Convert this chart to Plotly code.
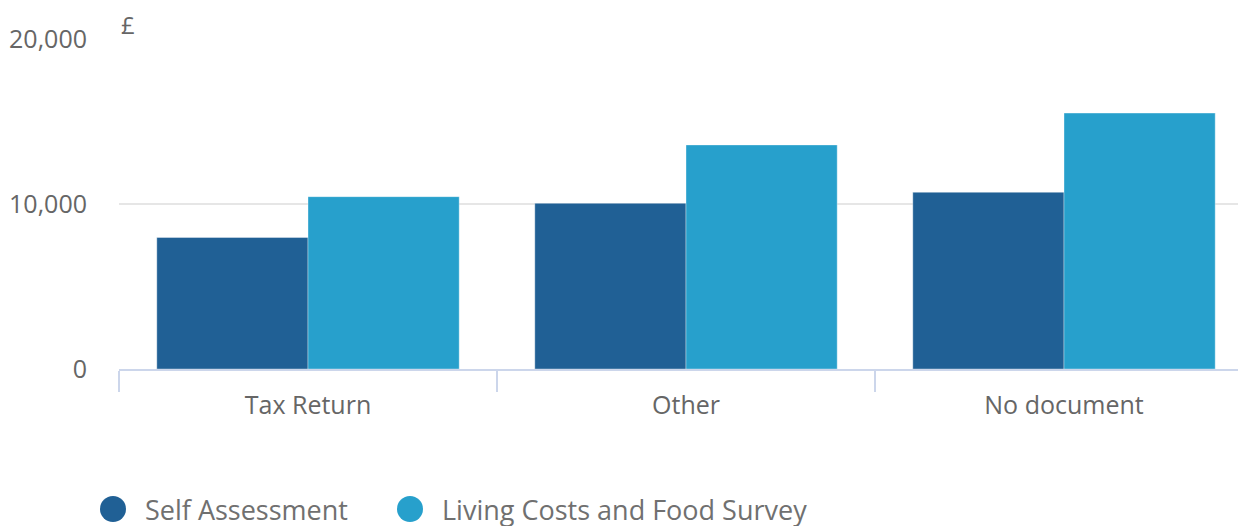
import plotly.graph_objects as go

categories = ["Tax Return", "Other", "No document"]
self_assessment = [7970, 10040, 10710]
lcf_survey = [10445, 13580, 15510]
series_names = ["Self Assessment", "Living Costs and Food Survey"]
colors = ["#206095", "#27a0cc"]
y_ticks = [0, 10000, 20000]
y_ticklabels = ["0", "10,000", "20,000"]

OFF = 8  # page body margin
W, H = 1246 - OFF, 526 - OFF
ML, MR, MT, MB = 119 - OFF, 0, 39 - OFF, 157
PW, PH = W - ML - MR, H - MT - MB

def px_x(px):
    return (px - OFF - ML) / PW

def px_y(py):
    return (H - MB - (py - OFF)) / PH

fig = go.Figure()
for name, vals, col in zip(series_names, [self_assessment, lcf_survey], colors):
    fig.add_trace(go.Bar(
        x=categories, y=vals, name=name,
        marker=dict(color=col, line=dict(color="rgba(255,255,255,0.6)", width=0.6)),
        showlegend=False,
    ))

font_family = "Open Sans, Noto Sans, sans-serif"
fig.update_layout(
    width=W, height=H,
    margin=dict(l=ML, r=MR, t=MT, b=MB),
    paper_bgcolor="white", plot_bgcolor="white",
    barmode="group", bargap=0.2, bargroupgap=0,
    font=dict(family=font_family, color="#666666", size=25),
    xaxis=dict(
        range=[-0.5, -0.5 + PW / 378.0],
        showgrid=False, showline=True, linecolor="#ccd6eb", linewidth=2,
        ticks="outside", tickson="boundaries", ticklen=21, tickcolor="#ccd6eb", tickwidth=2,
        ticklabelstandoff=13,
        tickfont=dict(size=25, color="#666666"), fixedrange=True,
    ),
    yaxis=dict(
        range=[0, 20000], tickvals=y_ticks, ticktext=y_ticklabels,
        showgrid=True, gridcolor="#e6e6e6", gridwidth=2, zeroline=False,
        showline=False, ticks="", ticklabelstandoff=31,
        tickfont=dict(size=25, color="#666666"), fixedrange=True,
    ),
)

fig.add_annotation(text="£", xref="paper", yref="paper", x=px_x(119), y=px_y(25),
                   xanchor="left", yanchor="middle", showarrow=False,
                   font=dict(size=24, color="#666666"))

legend_circle_px = [113, 410]
legend_text_px = [143, 440]
ly = px_y(509)
for name, col, cx, tx in zip(series_names, colors, legend_circle_px, legend_text_px):
    fig.add_shape(type="circle", xref="paper", yref="paper",
                  xsizemode="pixel", ysizemode="pixel",
                  xanchor=px_x(cx), yanchor=ly, x0=-13, x1=13, y0=-13, y1=13,
                  fillcolor=col, line=dict(width=0))
    fig.add_annotation(text=name, xref="paper", yref="paper", x=px_x(tx), y=ly,
                       xanchor="left", yanchor="middle", showarrow=False,
                       font=dict(size=27, color="#707070"))

fig.write_html("out.html")
